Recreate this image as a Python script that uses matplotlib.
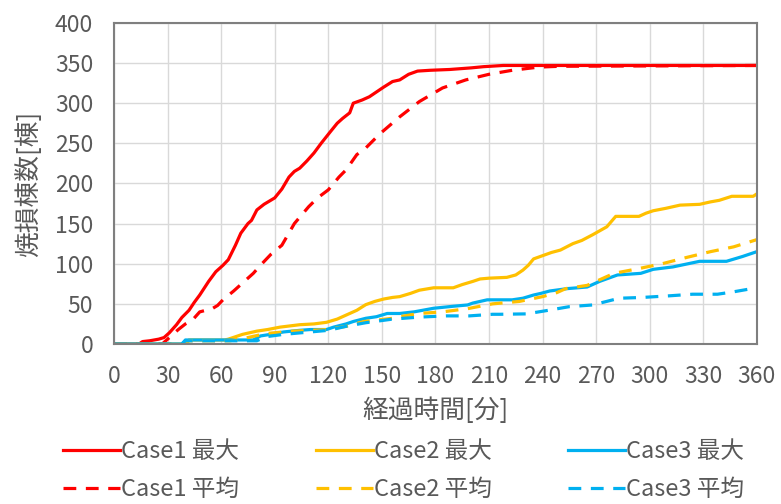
import matplotlib
matplotlib.use('Agg')
import matplotlib.pyplot as plt

plt.rcParams['font.family'] = ['Noto Sans CJK JP', 'DejaVu Sans']

# 経過時間[分] / 焼損棟数[棟]
c1_max_t = [0, 14, 16, 20, 25, 28, 31, 35, 38, 42, 45, 48, 53, 57, 61, 64, 68, 71, 75, 77, 80, 84, 90, 94, 98,
            101, 104, 108, 112, 116, 121, 125, 128, 132, 134, 139, 143, 147, 151, 156, 160, 165, 170, 177,
            188, 200, 207, 218, 360]
c1_max_y = [0, 0, 3, 4, 6, 8, 14, 24, 33, 42, 52, 61, 78, 90, 98, 105, 123, 138, 150, 154, 167, 174, 182, 193,
            208, 215, 219, 228, 238, 250, 264, 275, 281, 288, 300, 304, 308, 314, 320, 327, 329, 336, 340, 341,
            342, 344, 345.5, 347, 347]

c1_avg_t = [0, 27, 30, 33, 36, 40, 44, 48, 55, 58, 61, 67, 73, 78, 82, 88, 94, 101, 109, 114, 120, 126, 130,
            136, 140, 149, 160, 171, 184, 197, 210, 223, 238, 250, 360]
c1_avg_y = [0, 0, 6, 12, 18, 25, 30, 40, 44, 48, 55, 66, 78, 88, 98, 112, 123, 150, 171, 182, 192, 208, 217,
            236, 242, 262, 283, 302, 319, 329, 336, 341, 345, 346, 347]

c2_max_t = [0, 40, 42, 62, 64, 68, 72, 80, 86, 93, 104, 112, 119, 125, 130, 136, 141, 146, 151, 156, 160, 166,
            171, 179, 190, 195, 201, 205, 210, 220, 225, 229, 232, 235, 240, 245, 250, 257, 262, 268, 272, 276,
            281, 294, 298, 302, 309, 317, 328, 334, 339, 346, 358, 360]
c2_max_y = [0, 0, 5, 5, 6, 9, 12, 16, 18, 21, 24, 25, 27, 31, 36, 42, 49, 53, 56, 58, 59, 63, 67, 70, 70, 74,
            78, 81, 82, 83, 86, 92, 98, 106, 110, 114, 117, 125, 129, 136, 141, 146, 159, 159, 163, 166, 169,
            173, 174, 177, 179, 184, 184, 187]

c2_avg_t = [0, 40, 42, 65, 75, 85, 100, 120, 130, 140, 156, 160, 171, 184, 198, 212, 227, 240, 248, 253, 265,
            272, 280, 294, 307, 321, 334, 347, 360]
c2_avg_y = [0, 0, 4, 4, 8, 13, 16, 18, 22, 28, 32, 34, 38, 40, 44, 50, 53, 59, 64, 69, 73, 80, 88, 94, 100,
            108, 115, 121, 130]

c3_max_t = [0, 38, 40, 78, 82, 89, 95, 104, 110, 119, 123, 130, 134, 141, 147, 153, 156, 160, 168, 179, 190,
            198, 201, 209, 223, 229, 235, 239, 244, 254, 265, 272, 282, 295, 302, 313, 328, 343, 352, 360]
c3_max_y = [0, 0, 5, 5, 10, 12.5, 15, 17, 18, 18, 21, 25, 28, 32, 34, 38, 38, 38, 40, 44.5, 47, 48.6, 51, 55,
            55, 57, 61, 63, 66, 69, 71, 78, 86, 88, 93, 96, 103, 103, 109, 115]

c3_avg_t = [0, 38, 40, 80, 85, 95, 105, 120, 130, 141, 156, 171, 186, 199, 212, 216, 231, 242, 255, 268, 283,
            296, 311, 324, 338, 347, 356, 360]
c3_avg_y = [0, 0, 4, 4, 9, 12, 14, 17, 22, 26.5, 31, 33.5, 35, 35, 37, 37, 37.5, 41.5, 46.5, 48.6, 57, 58, 60,
            62, 62, 65, 68.5, 69]

red = '#FF0000'
yellow = '#FFC000'
blue = '#00B0F0'
grey = '#595959'
lw = 2.3

fig = plt.figure(figsize=(7.81, 5.04), dpi=100)
ax = fig.add_axes([0.146, 0.3175, 0.823, 0.637])

l1, = ax.plot(c1_max_t, c1_max_y, color=red, lw=lw, label='Case1 最大')
l2, = ax.plot(c2_max_t, c2_max_y, color=yellow, lw=lw, label='Case2 最大')
l3, = ax.plot(c3_max_t, c3_max_y, color=blue, lw=lw, label='Case3 最大')
l4, = ax.plot(c1_avg_t, c1_avg_y, color=red, lw=lw, ls=(0, (4, 3)), label='Case1 平均')
l5, = ax.plot(c2_avg_t, c2_avg_y, color=yellow, lw=lw, ls=(0, (4, 3)), label='Case2 平均')
l6, = ax.plot(c3_avg_t, c3_avg_y, color=blue, lw=lw, ls=(0, (4, 3)), label='Case3 平均')

ax.set_xlim(0, 360)
ax.set_ylim(0, 400)
ax.set_xticks(range(0, 361, 30))
ax.set_yticks(range(0, 401, 50))
ax.grid(True, color='#D9D9D9', lw=1)
ax.set_axisbelow(True)
ax.tick_params(length=0, labelsize=16.5, labelcolor=grey, pad=15)
for s in ax.spines.values():
    s.set_color('#7F7F7F')
    s.set_linewidth(1.5)

ax.set_xlabel('経過時間[分]', fontsize=18.5, color=grey, labelpad=7)
ax.set_ylabel('焼損棟数[棟]', fontsize=18.5, color=grey, labelpad=9)

fig.legend(handles=[l1, l4, l2, l5, l3, l6], ncol=3, loc='lower center',
           bbox_to_anchor=(0.517, -0.036), frameon=False, fontsize=17,
           handlelength=2.4, handletextpad=0.05, columnspacing=3.25,
           labelspacing=0.62, labelcolor=grey)

fig.savefig('out.png', dpi=100)
